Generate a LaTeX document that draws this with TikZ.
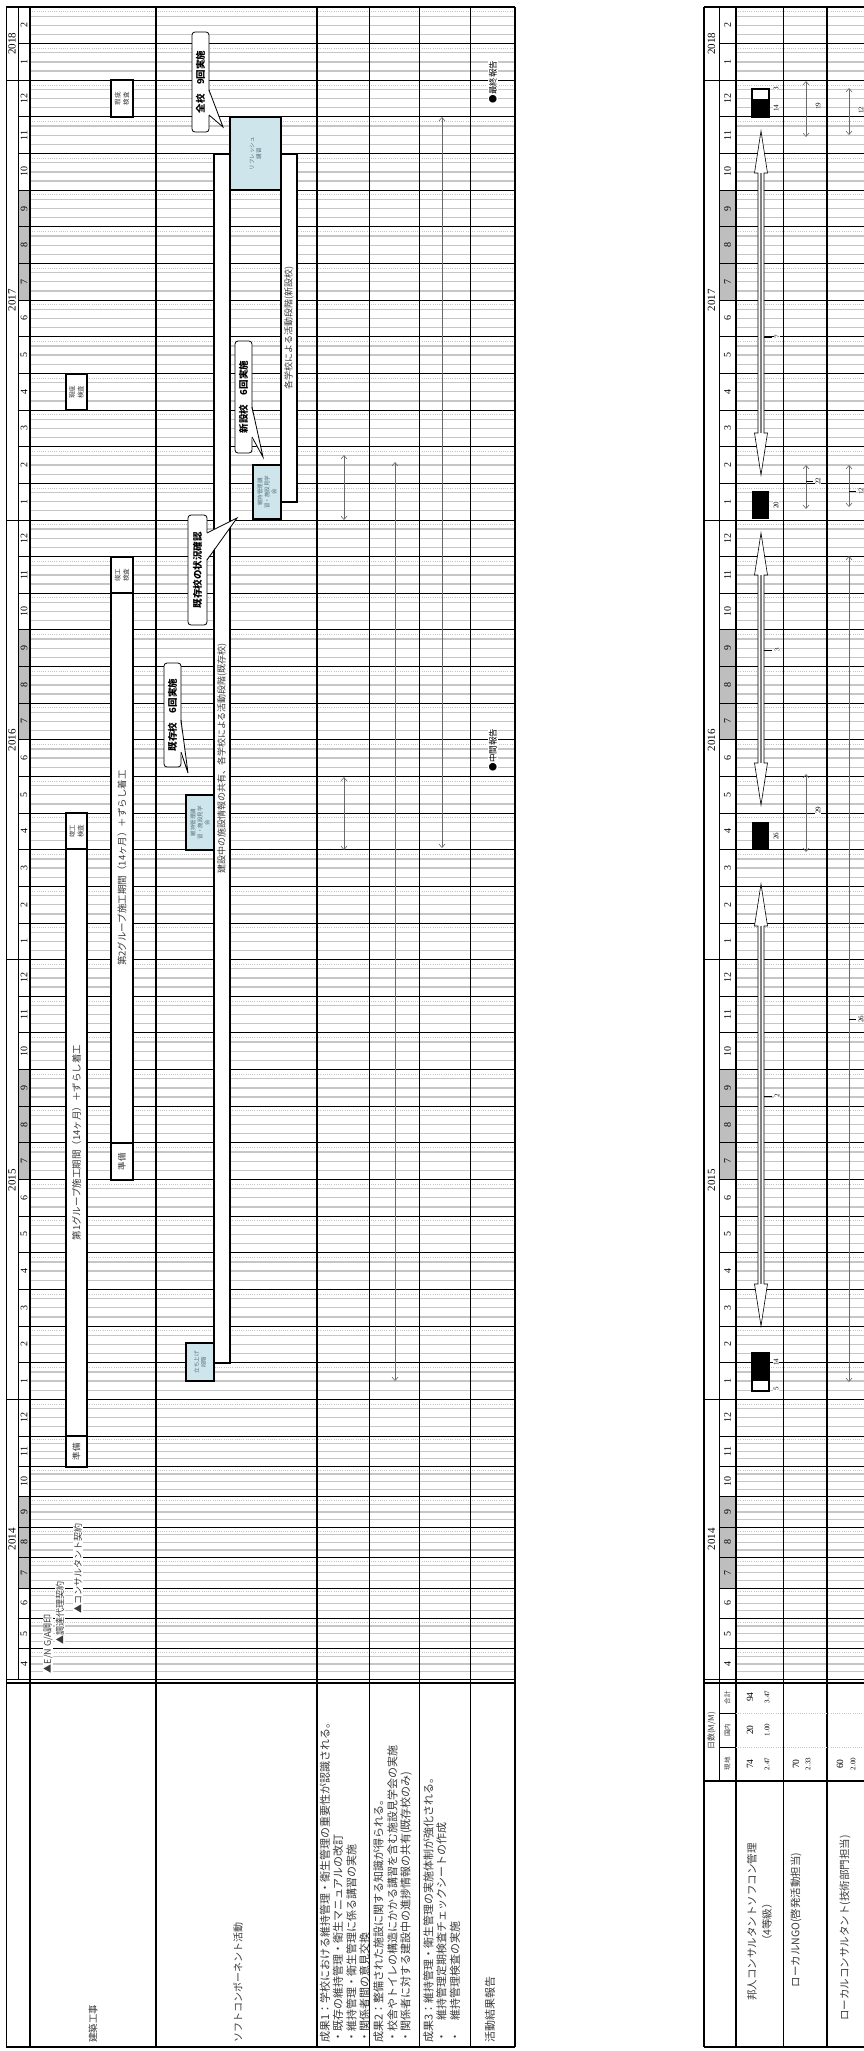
\documentclass[tikz,border=0pt]{standalone}
\usepackage{fontspec}
\setmainfont{Liberation Serif}
\newfontfamily\jp{Noto Sans CJK JP}
\usetikzlibrary{arrows.meta}
\definecolor{Shade}{HTML}{BEBEBE}
\definecolor{WeekGray}{HTML}{C6C6C6}
\definecolor{SoftBlue}{HTML}{CDE5EB}
\definecolor{Ink}{HTML}{3A3A3A}
\definecolor{BlueInk}{HTML}{56707A}
\definecolor{ArrowGray}{HTML}{6A6A6A}
\tikzset{
 thinrule/.style={draw=black, line width=0.6pt},
 gridrule/.style={draw=black, line width=0.9pt},
 heavyrule/.style={draw=black, line width=1.6pt},
 weekline/.style={draw=WeekGray, line width=1.3pt},
 dayline/.style={draw=WeekGray, line width=0.35pt, dash pattern=on 1pt off 1.2pt},
 monthlab/.style={rotate=90, inner sep=0pt, font=\fontsize{10}{10}\selectfont},
 yearlab/.style={rotate=90, inner sep=0pt, font=\fontsize{11}{11}\selectfont},
 workbar/.style={draw=black, line width=1.2pt, fill=white, rotate=90, inner sep=0pt, align=center, text=Ink, font=\jp\fontsize{9.5}{11}\selectfont},
 tinybox/.style={workbar, font=\jp\fontsize{6.5}{8.5}\selectfont},
 softbox/.style={draw=black, line width=1.4pt, fill=SoftBlue, rotate=90, inner sep=0pt, align=center, text=BlueInk, font=\jp\fontsize{5.5}{7}\selectfont},
 callbox/.style={draw=black, line width=0.8pt, rounded corners=3pt, fill=white, rotate=90, inner sep=0pt, font=\jp\bfseries\fontsize{9.5}{11}\selectfont},
 mile/.style={rotate=90, anchor=west, fill=white, inner sep=0.6pt, text=Ink, font=\jp\fontsize{9}{10}\selectfont},
 rowlab/.style={rotate=90, anchor=west, inner sep=0pt, text=Ink, font=\jp\fontsize{11}{13}\selectfont},
 staff/.style={rotate=90, inner sep=0pt, align=center, text=Ink, font=\jp\fontsize{10.5}{15}\selectfont},
 hdr/.style={rotate=90, inner sep=0pt, text=Ink, font=\jp\fontsize{6.5}{7}\selectfont},
 valbig/.style={rotate=90, inner sep=0pt, font=\fontsize{9.5}{10}\selectfont},
 valsmall/.style={rotate=90, inner sep=0pt, font=\fontsize{7}{7}\selectfont},
 numlab/.style={rotate=90, inner sep=0.6pt, fill=white, font=\fontsize{7}{7}\selectfont},
 twoway/.style={{Straight Barb[length=3.5pt,width=6pt]}-{Straight Barb[length=3.5pt,width=6pt]}, draw=ArrowGray, line width=0.6pt}
}
\newcommand\widearrow[3]{%
 \filldraw[fill=white, draw=black, line width=0.6pt]
  (#1,#2) -- (#1+6.5,#2+42) -- (#1+3,#2+42) -- (#1+3,#3-42) -- (#1+6.5,#3-42) -- (#1,#3)
  -- (#1-6.5,#3-42) -- (#1-3,#3-42) -- (#1-3,#2+42) -- (#1-6.5,#2+42) -- cycle;
 \draw[draw=gray, line width=1.6pt] (#1,#2+42) -- (#1,#3-42);
}

\begin{document}
\begin{tikzpicture}[x=1pt, y=-1pt,
 declare function={ym(\k)=(\k<39)*(7+36.64*\k)+(\k>=39)*(1436+30.4*(\k-39)); mh(\k)=(\k<39)*36.64+(\k>=39)*30.4;}]
\useasboundingbox (0,0) rectangle (864,2051);
\fill[white] (0,0) rectangle (864,2051);

\foreach \k in {0,...,46}{
 \pgfmathsetmacro{\ya}{ym(\k)}
 \pgfmathsetmacro{\hh}{mh(\k)}
 \pgfmathtruncatemacro{\mm}{mod(49-\k,12)+1}
 \ifnum\mm>6 \ifnum\mm<10
  \fill[Shade] (18,\ya) rectangle ++(12,\hh);
  \fill[Shade] (719,\ya) rectangle ++(17,\hh);
 \fi\fi
 \foreach \f in {0.25,0.5,0.75}{
  \draw[weekline] (30,\ya+\f*\hh) -- (515,\ya+\f*\hh);
  \draw[weekline] (736,\ya+\f*\hh) -- (864,\ya+\f*\hh);
 }
 \draw[dayline] (30,\ya+0.12*\hh) -- (515,\ya+0.12*\hh);
 \draw[dayline] (736,\ya+0.12*\hh) -- (864,\ya+0.12*\hh);
 \node[monthlab] (mA\k) at (24,\ya+0.5*\hh) {\mm};
 \node[monthlab] (mB\k) at (727.5,\ya+0.5*\hh) {\mm};
}
\foreach \k in {1,...,46}{
 \draw[gridrule] (18,{ym(\k)}) -- (515,{ym(\k)});
 \draw[gridrule] (719,{ym(\k)}) -- (864,{ym(\k)});
}
\foreach \k in {2,14,26,38}{
 \draw[gridrule] (6,{ym(\k)}) -- (18,{ym(\k)});
 \draw[gridrule] (704,{ym(\k)}) -- (719,{ym(\k)});
}
\foreach \yr/\yc in {2018/43.6,2017/300,2016/740,2015/1180,2014/1539}{
 \node[yearlab] (yA\yr) at (12,\yc) {\yr};
 \node[yearlab] (yB\yr) at (711.5,\yc) {\yr};
}

\draw[thinrule] (6,7) -- (6,2047);
\draw[thinrule] (18,7) -- (18,1679);
\foreach \x in {30,156,317,515} \draw[heavyrule] (\x,7) -- (\x,2047);
\draw[thinrule] (369,7) -- (369,2047);
\foreach \x in {419,470} \draw[gridrule] (\x,7) -- (\x,2047);
\draw[gridrule, line width=1.3pt] (6,7) -- (515,7);
\draw[gridrule] (6,1679.5) -- (515,1679.5);
\draw[heavyrule] (6,1683) -- (515,1683);
\draw[heavyrule] (6,2047) -- (515,2047);

\draw[heavyrule] (704,7) -- (704,2047);
\draw[thinrule] (719,7) -- (719,1781);
\draw[heavyrule] (736,7) -- (736,2047);
\draw[gridrule] (783,7) -- (783,2047);
\draw[heavyrule, line width=1.3pt] (827,7) -- (827,2047);
\draw[gridrule, line width=1.3pt] (704,7) -- (864,7);
\draw[gridrule] (704,1679.5) -- (864,1679.5);
\draw[heavyrule] (704,1683) -- (864,1683);
\draw[thinrule] (719,1713) -- (736,1713);
\draw[thinrule] (719,1747) -- (736,1747);
\draw[dayline] (736,1713) -- (864,1713);
\draw[dayline] (736,1747) -- (864,1747);
\draw[heavyrule] (704,1781) -- (864,1781);
\draw[heavyrule] (704,2047) -- (864,2047);

\node[mile] (enga) at (48,1674) {▲E/N G/A調印};
\node[mile] (procure) at (60,1645) {▲調達代理契約};
\node[mile] (consult) at (78,1614) {▲コンサルタント契約};

\node[tinybox, font=\jp\fontsize{8.5}{9}\selectfont, minimum width=31pt, minimum height=21pt] (prepA) at (76.5,1451.5) {準備};
\node[workbar, minimum width=587pt, minimum height=21pt] (grpA) at (76.5,1142.5) {第1グループ施工期間（14ヶ月）＋ずらし着工};
\node[tinybox, minimum width=36pt, minimum height=21pt] (doneA) at (76.5,831) {竣工\\検査};
\node[tinybox, minimum width=36pt, minimum height=21pt] (checkA) at (76.5,392) {瑕疵\\検査};
\node[tinybox, font=\jp\fontsize{8.5}{9}\selectfont, minimum width=37pt, minimum height=22pt] (prepB) at (122,1161.5) {準備};
\node[workbar, minimum width=550pt, minimum height=22pt] (grpB) at (122,868) {第2グループ施工期間（14ヶ月）＋ずらし着工};
\node[tinybox, minimum width=36pt, minimum height=22pt] (doneB) at (122,575) {竣工\\検査};
\node[tinybox, minimum width=37pt, minimum height=22pt] (checkB) at (122,98.5) {瑕疵\\検査};

\node[workbar, font=\jp\fontsize{9}{10}\selectfont, minimum width=1209pt, minimum height=16pt] (oldbar) at (222,758.5) {建設中の施設情報の共有、各学校による活動段階(既存校)};
\node[workbar, font=\jp\fontsize{9}{10}\selectfont, minimum width=348pt, minimum height=16pt] (newbar) at (289,328) {各学校による活動段階(新設校)};
\node[softbox, minimum width=38pt, minimum height=28pt] (launch) at (200,1362) {立ち上げ\\段階};
\node[softbox, minimum width=73pt, minimum height=51pt] (refresh) at (255.5,153.5) {リフレッシュ\\講習};
\node[softbox, minimum width=54pt, minimum height=28pt] (visitB) at (267,492) {維持管理講\\習・施設見学\\会};
\node[softbox, minimum width=55pt, minimum height=28pt] (visitA) at (200,822.5) {維持管理講\\習・施設見学\\会};

\node[callbox, minimum width=100pt, minimum height=17pt] (allsch) at (200.5,82) {全校　9回実施};
\fill[white] (208,90) -- (223,127) -- (208,115) -- cycle;
\draw[line width=0.8pt] (209,90) -- (223,127) -- (209,115);
\node[callbox, minimum width=112pt, minimum height=17pt] (newsch) at (243.5,397) {新設校　6回実施};
\fill[white] (251,407) -- (263,457) -- (251,437) -- cycle;
\draw[line width=0.8pt] (252,407) -- (263,457) -- (252,437);
\node[callbox, minimum width=110pt, minimum height=19pt] (oldcheck) at (197.5,570) {既存校の状況確認};
\fill[white] (206,533) -- (237,518) -- (206,560) -- cycle;
\draw[line width=0.8pt] (207,533) -- (237,518) -- (207,560);
\node[callbox, minimum width=104pt, minimum height=17pt] (oldsch) at (172.5,715) {既存校　6回実施};
\fill[white] (180,720) -- (188,773) -- (180,752) -- cycle;
\draw[line width=0.8pt] (181,720) -- (188,773) -- (181,752);

\coordinate (o1a) at (344,777); \coordinate (o1b) at (344,850);
\coordinate (o1c) at (344,455); \coordinate (o1d) at (344,520);
\coordinate (o2a) at (395,462); \coordinate (o2b) at (395,1381);
\coordinate (o3a) at (442,117); \coordinate (o3b) at (442,848);
\draw[twoway] (o1a) -- (o1b);
\draw[twoway] (o1c) -- (o1d);
\draw[twoway] (o2a) -- (o2b);
\draw[twoway] (o3a) -- (o3b);

\node[mile, text=black, font=\jp\fontsize{8.5}{9}\selectfont] (midrep) at (493,772) {●中間報告};
\node[mile, text=black, font=\jp\fontsize{8.5}{9}\selectfont] (finrep) at (493,104) {●最終報告};

\node[rowlab, font=\jp\fontsize{9.5}{11}\selectfont] (buildlab) at (93,2043) {建築工事};
\node[rowlab, font=\jp\fontsize{10}{12}\selectfont] (softlab) at (238,2043) {ソフトコンポーネント活動};
\node[rowlab] (outA1) at (325,2043) {成果1：学校における維持管理・衛生管理の重要性が認識される。};
\node[rowlab] (outA2) at (338,2043) {・既存の維持管理・衛生マニュアルの改訂};
\node[rowlab] (outA3) at (351.5,2043) {・維持管理・衛生管理に係る講習の実施};
\node[rowlab] (outA4) at (364.5,2043) {・関係者間の意見交換};
\node[rowlab] (outB1) at (378.5,2043) {成果2：整備された施設に関する知識が得られる。};
\node[rowlab] (outB2) at (392.5,2043) {・校舎やトイレの構造にかかる講習を含む施設見学会の実施};
\node[rowlab] (outB3) at (406,2043) {・関係者に対する建設中の進捗情報の共有(既存校のみ)};
\node[rowlab] (outC1) at (428.5,2043) {成果3：維持管理・衛生管理の実施体制が強化される。};
\node[rowlab] (outC2) at (441.5,2043) {・　維持管理定期検査チェックシートの作成};
\node[rowlab] (outC3) at (455,2043) {・　維持管理検査の実施};
\node[rowlab] (replab) at (490,2043) {活動結果報告};

\node[rotate=90, inner sep=0pt, text=Ink, font=\jp\fontsize{8}{9}\selectfont] (mmhead) at (711.5,1731) {日数(M/M)};
\node[hdr] (hsum) at (727.5,1697.5) {合計};
\node[hdr] (hdom) at (727.5,1730) {国内};
\node[hdr] (hloc) at (727.5,1763.5) {現地};
\node[valbig] (v1sum) at (750,1697) {94};
\node[valsmall] (m1sum) at (767,1697) {3.47};
\node[valbig] (v1dom) at (750,1730) {20};
\node[valsmall] (m1dom) at (767,1730) {1.00};
\node[valbig] (v1loc) at (750,1764) {74};
\node[valsmall] (m1loc) at (767,1764) {2.47};
\node[valbig] (v2loc) at (796,1764) {70};
\node[valsmall] (m2loc) at (808,1764) {2.33};
\node[valbig] (v3loc) at (840,1764) {60};
\node[valsmall] (m3loc) at (853,1764) {2.00};
\node[staff] (staffA) at (759.5,1922) {邦人コンサルタントソフコン管理\\（4等級）};
\node[staff] (staffB) at (796,1920) {ローカルNGO(啓発活動担当)};
\node[staff] (staffC) at (845,1928) {ローカルコンサルタント(技術部門担当)};

\widearrow{761}{131}{475}
\widearrow{761}{533}{805}
\widearrow{761}{884}{1326}
\draw[line width=1.2pt, fill=white] (752,89) rectangle (769,117);
\fill (752,98.5) rectangle (769,117);
\fill (752,491) rectangle (769,519);
\fill (752,822) rectangle (769,849);
\draw[line width=1.2pt, fill=white] (752,1353) rectangle (769,1391);
\fill (752,1353) rectangle (769,1381);
\node[numlab] (d17a) at (776,89) {3};
\node[numlab] (d17b) at (776,108) {14};
\node[numlab] (d17c) at (776,505) {20};
\node[numlab] (d16a) at (776,836) {26};
\node[numlab] (d15a) at (776,1362) {14};
\node[numlab] (d15b) at (776,1389) {5};
\draw[thinrule, line width=0.5pt] (764,337) -- (772,337);
\node[numlab] (w17) at (777,337) {7};
\draw[thinrule, line width=0.5pt] (764,650) -- (772,650);
\node[numlab] (w16) at (777,650) {3};
\draw[thinrule, line width=0.5pt] (764,1096) -- (772,1096);
\node[numlab] (w15) at (777,1096) {2};

\coordinate (n1a) at (806,81); \coordinate (n1b) at (806,137);
\coordinate (n2a) at (806,465); \coordinate (n2b) at (806,509);
\coordinate (n3a) at (806,774); \coordinate (n3b) at (806,852);
\coordinate (c1a) at (849,88); \coordinate (c1b) at (849,135);
\coordinate (c2a) at (849,465); \coordinate (c2b) at (849,507);
\coordinate (c3a) at (849,556); \coordinate (c3b) at (849,1382);
\draw[twoway] (n1a) -- (n1b);
\draw[twoway] (n2a) -- (n2b);
\draw[twoway] (n3a) -- (n3b);
\draw[twoway] (c1a) -- (c1b);
\draw[twoway] (c2a) -- (c2b);
\draw[twoway] (c3a) -- (c3b);
\node[numlab] (ngo17b) at (818,106) {19};
\draw[thinrule, line width=0.5pt] (806,481) -- (813,481);
\node[numlab] (ngo17a) at (818,481) {22};
\node[numlab] (ngo16) at (818,810) {29};
\node[numlab] (loc17b) at (861,110) {12};
\draw[thinrule, line width=0.5pt] (849,491) -- (856,491);
\node[numlab] (loc17a) at (861,491) {12};
\draw[thinrule, line width=0.5pt] (849,1019) -- (856,1019);
\node[numlab] (loc15) at (861,1019) {26};
\end{tikzpicture}
\end{document}
